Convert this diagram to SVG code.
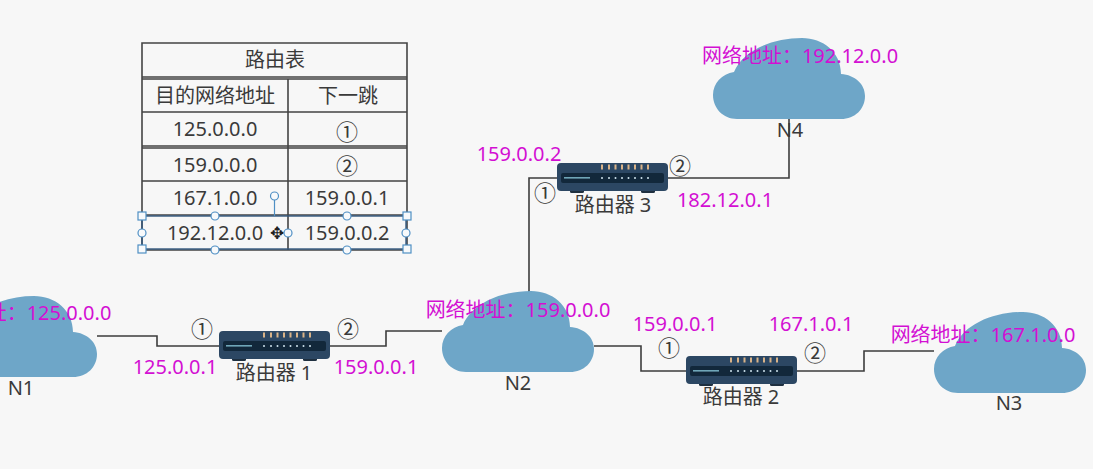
<svg xmlns="http://www.w3.org/2000/svg" xmlns:xlink="http://www.w3.org/1999/xlink" width="1093" height="469" viewBox="0 0 1093 469">
<style>
text{font-family:"Noto Sans","Noto Sans CJK SC",sans-serif;font-size:20px;fill:#3a3a3a;text-anchor:middle}
.m{fill:#d30fd3}
.c{font-family:"Noto Sans CJK SC",sans-serif;font-size:22px}
.wire{fill:none;stroke:#3c3c3c;stroke-width:1.6}
.tb{fill:none;stroke:#444;stroke-width:1.6}
.sel{fill:none;stroke:#33587e;stroke-width:1.4}
.h{fill:#f7f9fb;stroke:#4f8fc4;stroke-width:1.2}
</style>
<defs>
<g id="cloud"><path fill="#6ea6c8" d="M24 81C10 81 0 70 0 57C0 45 9 36 21 34C30 12 60 0 89 0C110 0 128 14 128 36C142 37 152 46 152 58C152 71 142 81 128 81Z"/></g>
<g id="router">
<rect x="13" y="26" width="14" height="4" rx="1.5" fill="#1f3040"/><rect x="84" y="26" width="14" height="4" rx="1.5" fill="#1f3040"/>
<rect x="0" y="0" width="111" height="28" rx="4" fill="#2c4763"/>
<rect x="4" y="10" width="103" height="10" rx="2" fill="#12283b"/>
<rect x="7" y="14" width="26" height="1.6" fill="#6fa6b8"/>
<g fill="#d9b388"><rect x="44" y="1.500" width="2" height="5"/><rect x="51" y="1.500" width="2" height="5"/><rect x="57.500" y="1.500" width="2" height="5"/><rect x="64" y="1.500" width="2" height="5"/><rect x="70.500" y="1.500" width="2" height="5"/><rect x="77" y="1.500" width="2" height="5"/><rect x="83.500" y="1.500" width="2" height="5"/><rect x="90" y="1.500" width="2" height="5"/></g>
<g fill="#cfe3ee"><circle cx="45" cy="15" r="1"/><circle cx="52" cy="15" r="1"/><circle cx="58.500" cy="15" r="1"/><circle cx="65" cy="15" r="1"/><circle cx="71.500" cy="15" r="1"/><circle cx="78" cy="15" r="1"/><circle cx="84.500" cy="15" r="1"/><circle cx="91" cy="15" r="1"/></g>
</g>
</defs>
<rect width="1093" height="469" fill="#f7f7f7"/>
<g id="connectors">
<path class="wire" d="M97 336H157V346H219"/>
<path class="wire" d="M330 346H386V331H442"/>
<path class="wire" d="M594 346H641V371H686"/>
<path class="wire" d="M797 371H864V351H934"/>
<path class="wire" d="M557 178H529V292"/>
<path class="wire" d="M668 178H789V118"/>
</g>
<g id="n1"><use xlink:href="#cloud" x="-55" y="296"/><text class="m" x="19" y="320">网络地址：125.0.0.0</text><text x="21" y="395">N1</text></g>
<g id="n2"><use xlink:href="#cloud" x="442" y="291"/><text class="m" x="518" y="317">网络地址：159.0.0.0</text><text x="518" y="390">N2</text></g>
<g id="n3"><use xlink:href="#cloud" x="934" y="312"/><text class="m" x="983" y="342">网络地址：167.1.0.0</text><text x="1009" y="410">N3</text></g>
<g id="n4"><use xlink:href="#cloud" x="713" y="38"/><text class="m" x="800" y="63">网络地址：192.12.0.0</text><text x="790" y="137">N4</text></g>
<g id="router1"><use xlink:href="#router" x="219" y="331"/><text x="274" y="380">路由器 1</text><text class="c" x="202" y="337">①</text><text class="c" x="348" y="337">②</text><text class="m" x="175" y="374">125.0.0.1</text><text class="m" x="376" y="374">159.0.0.1</text></g>
<g id="router2"><use xlink:href="#router" x="686" y="356"/><text x="741" y="404">路由器 2</text><text class="c" x="669" y="356">①</text><text class="c" x="815" y="361">②</text><text class="m" x="675" y="331">159.0.0.1</text><text class="m" x="811" y="331">167.1.0.1</text></g>
<g id="router3"><use xlink:href="#router" x="557" y="163"/><text x="613" y="212">路由器 3</text><text class="c" x="545" y="201">①</text><text class="c" x="680" y="174">②</text><text class="m" x="519" y="161">159.0.0.2</text><text class="m" x="725" y="207">182.12.0.1</text></g>
<g id="routing-table">
<path class="tb" d="M142 43H407V250H142ZM142 77H407M142 79H407M142 112H407M142 146H407M142 148H407M142 181H407M142 215H407M288 79V250"/>
<text x="275" y="67">路由表</text>
<text x="215" y="103">目的网络地址</text><text x="348" y="103">下一跳</text>
<text x="215" y="136">125.0.0.0</text><text class="c" x="347" y="140">①</text>
<text x="215" y="172">159.0.0.0</text><text class="c" x="347" y="174">②</text>
<text x="215" y="205">167.1.0.0</text><text x="347" y="205">159.0.0.1</text>
<text x="215" y="240">192.12.0.0</text><text x="347" y="240">159.0.0.2</text>
<text x="277" y="239" style="font-size:17px;fill:#222;font-family:'DejaVu Sans',sans-serif">✥</text>
<rect class="sel" x="142" y="216" width="264" height="33"/>
<path d="M274.500 196V216" fill="none" stroke="#4f8fc4" stroke-width="1.200"/>
<circle class="h" cx="274.500" cy="196" r="4"/>
<rect class="h" x="138" y="212" width="8" height="8"/><rect class="h" x="403" y="212" width="8" height="8"/><rect class="h" x="138" y="245" width="8" height="8"/><rect class="h" x="403" y="245" width="8" height="8"/>
<circle class="h" cx="215" cy="216" r="4"/><circle class="h" cx="347" cy="216" r="4"/><circle class="h" cx="215" cy="250" r="4"/><circle class="h" cx="347" cy="250" r="4"/><circle class="h" cx="142" cy="233" r="4"/><circle class="h" cx="288" cy="233" r="4"/><circle class="h" cx="406" cy="233" r="4"/>
</g>
</svg>
